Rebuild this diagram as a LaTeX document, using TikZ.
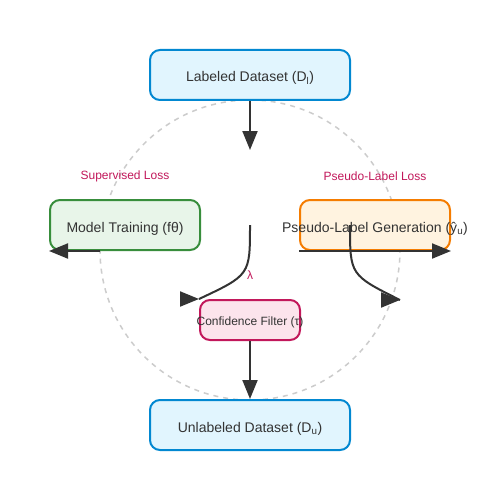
\documentclass[tikz,border=0pt]{standalone}
\usepackage{fontspec}
\setmainfont{Liberation Sans}
\usetikzlibrary{arrows.meta}

\definecolor{inkgray}{HTML}{333333}
\definecolor{ringgray}{HTML}{CCCCCC}
\definecolor{lossred}{HTML}{C2185B}
\definecolor{bluefill}{HTML}{E1F5FE}
\definecolor{blueline}{HTML}{0288D1}
\definecolor{greenfill}{HTML}{E8F5E9}
\definecolor{greenline}{HTML}{388E3C}
\definecolor{orangefill}{HTML}{FFF3E0}
\definecolor{orangeline}{HTML}{F57C00}
\definecolor{pinkfill}{HTML}{FCE4EC}
\definecolor{pinkline}{HTML}{C2185B}

\tikzset{
  stage/.style={draw, rounded corners=10pt, line width=2pt, inner sep=0pt,
    minimum width=200pt, minimum height=50pt, text=inkgray,
    text height=14pt, text depth=0pt,
    font=\fontsize{14}{16}\selectfont},
  lossnote/.style={text=lossred, font=\fontsize{12}{14}\selectfont},
  flow/.style={draw=inkgray, line width=2pt,
    -{Triangle[length=19pt,width=15pt]}},
  ring/.style={draw=ringgray, line width=1.5pt, dash pattern=on 5pt off 5pt},
}

\begin{document}
\begin{tikzpicture}[x=1pt,y=-1pt]
        \useasboundingbox[fill=white] (0,0) rectangle (500,500);
        \draw[ring] (250,250) circle[radius=150pt];

        \node[stage, fill=bluefill, draw=blueline] (labeled) at (250,75)
            {Labeled Dataset (D\textsubscript{l})};
        \node[stage, minimum width=150pt, fill=greenfill, draw=greenline] (model) at (125,225)
            {Model Training (fθ)};
        \node[stage, minimum width=150pt, fill=orangefill, draw=orangeline] (pseudo) at (375,225)
            {\makebox[0pt]{Pseudo-Label Generation (ŷ\textsubscript{u})}};
        \node[stage, minimum width=100pt, minimum height=40pt, fill=pinkfill, draw=pinkline,
            text height=10pt, font=\fontsize{12}{14}\selectfont] (filter) at (250,320)
            {\makebox[0pt]{Confidence Filter (τ)}};
        \node[stage, fill=bluefill, draw=blueline] (unlabeled) at (250,425)
            {Unlabeled Dataset (D\textsubscript{u})};

        \node[lossnote] (suploss) at (125,176) {Supervised Loss};
        \node[lossnote] (pseudoloss) at (375,176) {Pseudo-Label Loss};
        \node[lossnote] (lambda) at (250,275) {λ};

        \coordinate (hub) at (250,150);
        \coordinate (split) at (250,225);
        \coordinate (keep) at (400,300);

        \draw[flow] (labeled.south) -- (hub);
        \draw[flow] ([xshift=-25pt]model.south) -- (model.south west);
        \draw[flow] (pseudo.south west) -- (pseudo.south east);
        \draw[flow] (filter.south) -- (unlabeled.north);

        % curved links, heads point right
        \draw[inkgray, line width=2pt] (split) .. controls (250,275) .. (filter.north west);
        \draw[flow] ([xshift=-19pt]filter.north west) -- (filter.north west);
        \draw[inkgray, line width=2pt] ([xshift=-25pt]pseudo.center) .. controls (350,275) .. (keep);
        \draw[flow] ([xshift=-19pt]keep) -- (keep);
    \end{tikzpicture}
\end{document}
